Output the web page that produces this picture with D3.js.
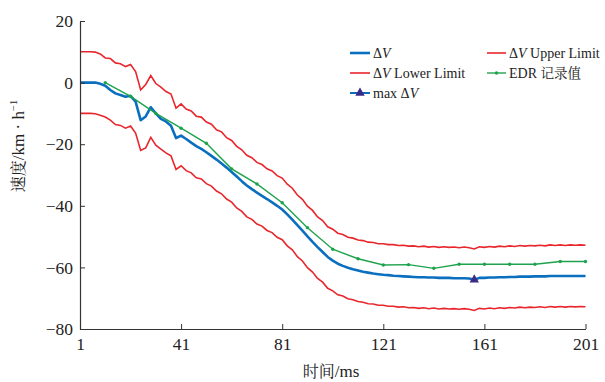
<!DOCTYPE html>
<html><head><meta charset="utf-8">
<script src="https://cdn.jsdelivr.net/npm/d3@7"></script>
<style>
body{margin:0;background:#fff}
svg text{font-family:"Liberation Serif","DejaVu Serif",serif;}
svg text .cjk, svg text.cjk{font-family:"Noto Serif CJK SC","Noto Sans CJK SC",serif;}
</style>
</head><body><svg id="c" width="605" height="382"></svg>
<script>
// sampling grid (ms)
const tMs = d3.range(1, 202, 2);
// ΔV (km/h)
const dV = [0,0,0,0,-0.4,-1.0,-2.4,-3.5,-4.0,-4.6,-4.3,-6.2,-12.2,-11.0,-8.0,-10.0,-11.8,-12.6,-14.0,-18.0,
-17.2,-18.3,-19.5,-20.6,-21.5,-22.6,-23.8,-25.0,-26.3,-27.6,-29.0,-30.5,-32.0,-33.4,-34.6,-35.7,-36.8,-37.8,-38.9,-40.0,
-41.2,-42.8,-44.5,-46.3,-48.1,-49.9,-51.7,-53.4,-55.0,-56.6,-57.8,-58.8,-59.5,-60.1,-60.6,-61.0,-61.4,-61.7,-62.0,-62.2,
-62.4,-62.5,-62.7,-62.8,-62.9,-63.0,-63.1,-63.2,-63.2,-63.3,-63.3,-63.4,-63.4,-63.4,-63.5,-63.5,-63.5,-63.6,-64.0,-63.4,
-63.4,-63.3,-63.3,-63.2,-63.2,-63.1,-63.1,-63.0,-63.0,-63.0,-62.9,-62.9,-62.9,-62.8,-62.8,-62.8,-62.8,-62.8,-62.8,-62.8,-62.8];
// ΔV Upper Limit
const dVUpper = [10,10,10,9.9,9.3,8.0,7.8,6.4,6.1,5.2,5.9,3.6,-2.4,-0.6,2.3,-0.3,-1.5,-2.9,-3.7,-8.3,
-6.9,-8.6,-9.2,-10.9,-11.2,-12.8,-13.5,-15.3,-16.0,-17.9,-18.8,-20.7,-21.8,-23.6,-24.4,-25.9,-26.6,-28.0,-28.7,-30.2,
-31.0,-33.0,-34.3,-36.5,-37.9,-40.1,-41.5,-43.6,-44.8,-46.8,-47.6,-48.9,-49.3,-50.2,-50.5,-51.1,-51.3,-51.8,-51.9,-52.3,
-52.3,-52.6,-52.6,-52.9,-52.8,-53.1,-53.0,-53.3,-53.1,-53.4,-53.2,-53.5,-53.3,-53.5,-53.4,-53.6,-53.4,-53.6,-54.0,-53.3,
-53.5,-53.2,-53.4,-53.1,-53.3,-53.0,-53.2,-52.9,-53.1,-52.9,-53.0,-52.8,-53.0,-52.7,-52.9,-52.7,-52.9,-52.7,-52.8,-52.7,-52.8];
// ΔV Lower Limit
const dVLower = [-10,-10,-10,-10.1,-10.6,-11.2,-12.2,-13.6,-13.9,-14.8,-14.1,-16.4,-22.0,-21.2,-17.8,-20.3,-21.6,-22.8,-23.8,-28.2,
-27.0,-28.6,-29.3,-30.9,-31.3,-32.8,-33.6,-35.2,-36.1,-37.8,-38.8,-40.7,-41.8,-43.6,-44.4,-45.9,-46.6,-48.0,-48.7,-50.2,
-51.0,-53.0,-54.3,-56.5,-57.9,-60.1,-61.5,-63.6,-64.8,-66.8,-67.6,-68.9,-69.3,-70.2,-70.5,-71.1,-71.3,-71.8,-71.9,-72.3,
-72.3,-72.6,-72.6,-72.9,-72.8,-73.1,-73.0,-73.3,-73.1,-73.4,-73.2,-73.5,-73.3,-73.5,-73.4,-73.6,-73.4,-73.6,-74.0,-73.3,
-73.5,-73.2,-73.4,-73.1,-73.3,-73.0,-73.2,-72.9,-73.1,-72.9,-73.0,-72.8,-73.0,-72.7,-72.9,-72.7,-72.9,-72.7,-72.8,-72.7,-72.8];
// EDR 记录值
const edrTime  = [11,21,31,41,51,61,71,81,91,101,111,121,131,141,151,161,171,181,191,201];
const edrValue = [0,-4.5,-10.0,-14.8,-19.7,-28.0,-32.9,-39.0,-47.1,-54.1,-57.2,-59.2,-59.1,-60.3,-59.0,-59.0,-59.0,-59.0,-58.1,-58.1];
// max ΔV
const maxTime = [157];
const maxValue = [-64.0];
const xTicks = [1,41,81,121,161,201];
const yTicks = [-80,-60,-40,-20,0,20];

const C = {blue:"#0b6fbf", red:"#e8262c", green:"#1fa24d", purple:"#3b2a86", axis:"#333"};

const svg = d3.select("#c");
const x = d3.scaleLinear().domain([1,201]).range([80,585.5]);
const y = d3.scaleLinear().domain([-80,20]).range([329,21]);

const line = (xs, ys) => d3.line().x((d,i)=>x(xs[i])).y((d,i)=>y(ys[i]))(ys);

svg.append("path").attr("d", line(tMs, dV)).attr("fill","none").attr("stroke",C.blue).attr("stroke-width",2.6).attr("stroke-linejoin","round");
svg.append("path").attr("d", line(tMs, dVUpper)).attr("fill","none").attr("stroke",C.red).attr("stroke-width",1.6);
svg.append("path").attr("d", line(tMs, dVLower)).attr("fill","none").attr("stroke",C.red).attr("stroke-width",1.6);
svg.append("path").attr("d", line(edrTime, edrValue)).attr("fill","none").attr("stroke",C.green).attr("stroke-width",1.4);
svg.append("g").selectAll("circle").data(edrValue).join("circle")
  .attr("cx",(d,i)=>x(edrTime[i])).attr("cy",d=>y(d)).attr("r",1.7).attr("fill",C.green);
svg.append("g").selectAll("path").data(maxValue).join("path")
  .attr("d", d3.symbol(d3.symbolTriangle, 38))
  .attr("transform",(d,i)=>`translate(${x(maxTime[i])},${y(d)})`).attr("fill",C.purple);

// axes
const ax = svg.append("g").attr("transform","translate(0,329)")
  .call(d3.axisBottom(x).tickValues(xTicks).tickSizeInner(-5).tickSizeOuter(0).tickPadding(9).tickFormat(d3.format("d")));
const ay = svg.append("g").attr("transform","translate(80,0)")
  .call(d3.axisLeft(y).tickValues(yTicks).tickSizeInner(-5).tickSizeOuter(0).tickPadding(7));
[ax, ay].forEach(g=>{
  g.attr("font-family",null);
  g.select(".domain").attr("stroke",C.axis).attr("stroke-width",1.2);
  g.selectAll(".tick line").attr("stroke",C.axis);
  g.selectAll(".tick text").attr("fill","#222").style("font-size","17.5px");
});

// axis titles
const yl = svg.append("text").attr("transform","translate(24,146) rotate(-90)")
  .attr("text-anchor","middle").attr("fill","#222").style("font-size","17px");
yl.append("tspan").attr("class","cjk").style("font-size","16px").text("速度");
yl.append("tspan").text("/km · h");
yl.append("tspan").style("font-size","10.5px").attr("dy",-7).text("−1");

const xl = svg.append("text").attr("x",331).attr("y",377).attr("text-anchor","middle").attr("fill","#222").style("font-size","17px");
xl.append("tspan").attr("class","cjk").style("font-size","16px").text("时间");
xl.append("tspan").text("/ms");

// legend
const lg = svg.append("g").attr("fill","#222");
function dvText(t, xx, yy, pre, post){
  const tx = t.append("text").attr("x",xx).attr("y",yy).style("font-size","14px");
  if (pre) tx.append("tspan").text(pre);
  tx.append("tspan").text("Δ");
  tx.append("tspan").attr("font-style","italic").text("V");
  if (post) tx.append("tspan").text(post);
  return tx;
}
const rows = [53,73,93];
lg.append("line").attr("x1",350).attr("x2",370).attr("y1",rows[0]).attr("y2",rows[0]).attr("stroke",C.blue).attr("stroke-width",2.6);
dvText(lg, 373, rows[0]+5, null, null);
lg.append("line").attr("x1",487).attr("x2",506).attr("y1",rows[0]).attr("y2",rows[0]).attr("stroke",C.red).attr("stroke-width",1.6);
dvText(lg, 509, rows[0]+5, null, " Upper Limit");
lg.append("line").attr("x1",350).attr("x2",370).attr("y1",rows[1]).attr("y2",rows[1]).attr("stroke",C.red).attr("stroke-width",1.6);
dvText(lg, 373, rows[1]+5, null, " Lower Limit");
lg.append("line").attr("x1",487).attr("x2",506).attr("y1",rows[1]).attr("y2",rows[1]).attr("stroke",C.green).attr("stroke-width",1.4);
lg.append("circle").attr("cx",496.5).attr("cy",rows[1]).attr("r",1.7).attr("fill",C.green);
const et = lg.append("text").attr("x",509).attr("y",rows[1]+5).style("font-size","14px");
et.append("tspan").text("EDR ");
et.append("tspan").attr("class","cjk").style("font-size","13.5px").text("记录值");
lg.append("line").attr("x1",350).attr("x2",370).attr("y1",rows[2]).attr("y2",rows[2]).attr("stroke",C.blue).attr("stroke-width",2);
lg.append("path").attr("d",d3.symbol(d3.symbolTriangle,38)).attr("transform",`translate(360,${rows[2]})`).attr("fill",C.purple);
dvText(lg, 373, rows[2]+5, "max ", null);
</script>
</body></html>
